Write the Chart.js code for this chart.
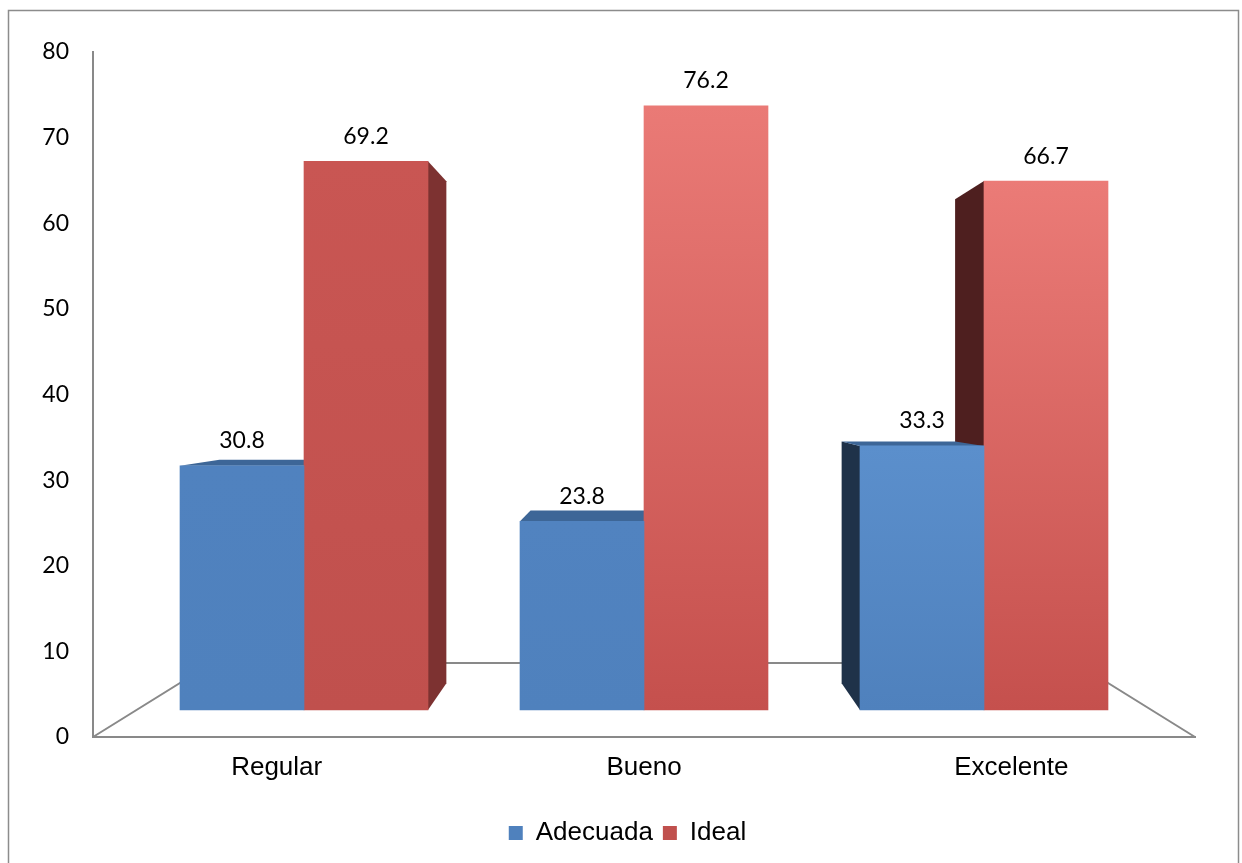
<!DOCTYPE html>
<html>
<head>
<meta charset="utf-8">
<script src="https://cdn.jsdelivr.net/npm/chart.js@4.4.1/dist/chart.umd.min.js"></script>
<style>
  html, body { margin: 0; padding: 0; background: #fff; }
  #wrap { width: 1242px; height: 863px; }
</style>
</head>
<body>
<div id="wrap"><canvas id="chart" width="1242" height="863"></canvas></div>
<script>
const categories = ["Regular", "Bueno", "Excelente"];
const seriesNames = ["Adecuada", "Ideal"];
const adecuada = [30.8, 23.8, 33.3];
const ideal = [69.2, 76.2, 66.7];
const yTicks = [0, 10, 20, 30, 40, 50, 60, 70, 80];

// colours (front gradient top/bottom, side and top faces)
const blueTop = ["#5082bf", "#5183c0", "#5b8fcc"];
const blueBottom = ["#4f81bd", "#4f81bd", "#4f81bd"];
const redTop = ["#c95653", "#ea7a76", "#eb7b77"];
const redBottom = ["#c0504d", "#c5504d", "#c5504d"];
const legendColors = ["#4f81bd", "#c0504d"];
const sideLeft = ["#1f3249", "#4e1f1f"];
const sideRight = ["#2d4b70", "#7d3231"];
const topFace = ["#3d6697", "#a44542"];

// perspective: vanishing point and depth factors
const VP = { x: 644, y: 395 };
const BAR_BACK = 0.915;
const FLOOR_BACK = 0.7836;

const numFont = "Lato, 'Open Sans', sans-serif";
const txtFont = "'Liberation Sans', Arial, sans-serif";

const toBack = (px, py, k) => [VP.x + (px - VP.x) * k, VP.y + (py - VP.y) * k];

function fillPoly(ctx, pts, color) {
  ctx.beginPath();
  ctx.moveTo(pts[0][0], pts[0][1]);
  for (let i = 1; i < pts.length; i++) ctx.lineTo(pts[i][0], pts[i][1]);
  ctx.closePath();
  ctx.fillStyle = color;
  ctx.fill();
}

function frontFill(c, tops, bottoms) {
  if (c.type !== "data") return bottoms[0];
  const ys = c.chart.scales.yf;
  const y = ys.getPixelForValue(c.parsed.y);
  const base = ys.getPixelForValue(0);
  if (!isFinite(y) || !isFinite(base) || y === base) return bottoms[c.dataIndex];
  const g = c.chart.ctx.createLinearGradient(0, y, 0, base);
  g.addColorStop(0, tops[c.dataIndex]);
  g.addColorStop(1, bottoms[c.dataIndex]);
  return g;
}

const boxPlugin = {
  id: "box3d",
  afterLayout(chart) {
    // legend sits a little right of the canvas centre in the original
    chart.legend.left += 26;
    chart.legend.right += 26;
  },
  beforeDraw(chart) {
    const ctx = chart.ctx;
    ctx.save();
    ctx.fillStyle = "#fff";
    ctx.fillRect(0, 0, chart.width, chart.height);
    ctx.strokeStyle = "#8c8c8c";
    ctx.lineWidth = 1.5;
    ctx.strokeRect(8.5, 10.5, 1230, 900);
    ctx.restore();
  },
  beforeDatasetsDraw(chart) {
    const ctx = chart.ctx;
    const area = chart.chartArea;
    const y0 = chart.scales.y.getPixelForValue(0);
    const bl = toBack(area.left, y0, FLOOR_BACK);
    const br = toBack(area.right, y0, FLOOR_BACK);
    ctx.save();
    ctx.strokeStyle = "#898989";
    ctx.lineWidth = 2;
    ctx.beginPath();
    ctx.moveTo(area.left, y0);
    ctx.lineTo(bl[0], bl[1]);
    ctx.lineTo(br[0], br[1]);
    ctx.lineTo(area.right, y0);
    ctx.stroke();

    const bars = [];
    chart.data.datasets.forEach((ds, di) => {
      chart.getDatasetMeta(di).data.forEach((el) => {
        const p = el.getProps(["x", "y", "base", "width"], true);
        bars.push({ di, l: p.x - p.width / 2, r: p.x + p.width / 2, t: p.y, b: p.base });
      });
    });
    // side faces first
    bars.forEach((k) => {
      if (k.r < VP.x) {
        fillPoly(ctx, [[k.r, k.t], toBack(k.r, k.t, BAR_BACK), toBack(k.r, k.b, BAR_BACK), [k.r, k.b]], sideRight[k.di]);
      } else if (k.l > VP.x) {
        fillPoly(ctx, [[k.l, k.t], toBack(k.l, k.t, BAR_BACK), toBack(k.l, k.b, BAR_BACK), [k.l, k.b]], sideLeft[k.di]);
      }
    });
    // then top faces
    bars.forEach((k) => {
      if (k.t > VP.y) {
        fillPoly(ctx, [[k.l, k.t], [k.r, k.t], toBack(k.r, k.t, BAR_BACK), toBack(k.l, k.t, BAR_BACK)], topFace[k.di]);
      }
    });
    ctx.restore();
  },
  afterDatasetsDraw(chart) {
    const ctx = chart.ctx;
    ctx.save();
    ctx.font = "23px " + numFont;
    ctx.fillStyle = "#000";
    ctx.textAlign = "center";
    ctx.textBaseline = "middle";
    chart.data.datasets.forEach((ds, di) => {
      chart.getDatasetMeta(di).data.forEach((el, i) => {
        const p = el.getProps(["x", "y"], true);
        ctx.fillText(ds.data[i].y.toFixed(1), p.x, p.y - 25);
      });
    });
    ctx.restore();
  }
};

new Chart(document.getElementById("chart"), {
  type: "bar",
  data: {
    labels: categories,
    datasets: [
      {
        label: seriesNames[0],
        data: adecuada.map((v, i) => ({ x: i, y: v })),
        xAxisID: "xf",
        yAxisID: "yf",
        backgroundColor: (c) => frontFill(c, blueTop, blueBottom),
        borderWidth: 0,
        barThickness: 124
      },
      {
        label: seriesNames[1],
        data: ideal.map((v, i) => ({ x: i, y: v })),
        xAxisID: "xf",
        yAxisID: "yf",
        backgroundColor: (c) => frontFill(c, redTop, redBottom),
        borderWidth: 0,
        barThickness: 124
      }
    ]
  },
  options: {
    responsive: false,
    animation: false,
    devicePixelRatio: 1,
    layout: { padding: { left: 8, right: 47, top: 52, bottom: 7 } },
    plugins: {
      tooltip: { enabled: false },
      legend: {
        position: "bottom",
        labels: {
          color: "#000",
          boxWidth: 14,
          boxHeight: 14,
          padding: 10,
          font: { family: txtFont, size: 26 },
          generateLabels: (chart) =>
            Chart.defaults.plugins.legend.labels.generateLabels(chart).map((it, i) =>
              Object.assign(it, { fillStyle: legendColors[i], strokeStyle: legendColors[i], lineWidth: 0 })
            )
        }
      }
    },
    scales: {
      x: {
        type: "category",
        labels: categories,
        offset: true,
        position: "bottom",
        grid: { display: false, drawTicks: false },
        border: { color: "#898989", width: 2 },
        ticks: { padding: 15, color: "#000", font: { family: txtFont, size: 26 } },
        afterFit: (s) => { s.height = 73; }
      },
      y: {
        type: "linear",
        min: 0,
        max: 80,
        position: "left",
        afterBuildTicks: (s) => { s.ticks = yTicks.map((v) => ({ value: v })); },
        grid: { display: false, drawTicks: false },
        border: { color: "#898989", width: 2 },
        ticks: { padding: 24, color: "#000", font: { family: numFont, size: 23 } },
        afterFit: (s) => { s.width = 85; }
      },
      xf: { type: "linear", display: false, offset: false, min: -0.6206, max: 2.6206 },
      yf: { type: "linear", display: false, min: -3.405, max: 82.98 }
    }
  },
  plugins: [boxPlugin]
});
</script>
</body>
</html>
